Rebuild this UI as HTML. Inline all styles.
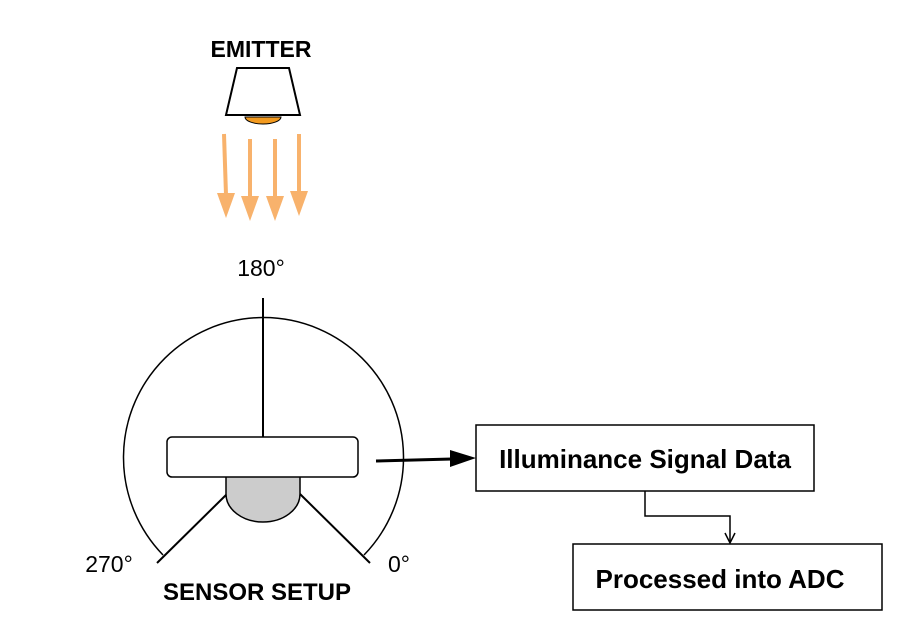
<!DOCTYPE html>
<html><head><style>body{margin:0;background:#fff}svg{display:block}text{font-family:"Liberation Sans",Arial,sans-serif}</style></head>
<body>
<svg width="903" height="640" viewBox="0 0 903 640" xmlns="http://www.w3.org/2000/svg">
<rect width="903" height="640" fill="#fff"/>
<text x="261" y="57" font-size="23" font-weight="bold" text-anchor="middle">EMITTER</text>
<path d="M245,117 A18,7 0 0 0 281,117 Z" fill="#f39a1e" stroke="#000" stroke-width="1"/>
<polygon points="237,68 289,68 300,115 226,115" fill="#fff" stroke="#000" stroke-width="2"/>
<g stroke="#f8b26c" stroke-width="4" fill="#f8b26c">
<line x1="224" y1="134" x2="226" y2="195"/><polygon points="217,193 235,193 226,218" stroke="none"/>
<line x1="250" y1="139" x2="250" y2="198"/><polygon points="241,196 259,196 250,221" stroke="none"/>
<line x1="275" y1="139" x2="275" y2="198"/><polygon points="266,196 284,196 275,221" stroke="none"/>
<line x1="299" y1="134" x2="299" y2="193"/><polygon points="290,191 308,191 299,216" stroke="none"/>
</g>
<text x="261" y="276" font-size="23" text-anchor="middle">180°</text>
<path d="M163,555 A140,140 0 1 1 364,555" fill="none" stroke="#000" stroke-width="1.5"/>
<line x1="263" y1="298" x2="263" y2="437" stroke="#000" stroke-width="2"/>
<line x1="227" y1="494" x2="157" y2="563" stroke="#000" stroke-width="2"/>
<line x1="300" y1="494" x2="370" y2="563" stroke="#000" stroke-width="2"/>
<path d="M226,476 L226,494 A37,28 0 0 0 300,494 L300,476 Z" fill="#cccccc" stroke="#000" stroke-width="1.5"/>
<rect x="167" y="437" width="191" height="40" rx="5" fill="#fff" stroke="#000" stroke-width="1.5"/>
<text x="109" y="572" font-size="23" text-anchor="middle">270°</text>
<text x="399" y="572" font-size="23" text-anchor="middle">0°</text>
<text x="257" y="600" font-size="24" font-weight="bold" text-anchor="middle">SENSOR SETUP</text>
<line x1="376" y1="461" x2="452" y2="459" stroke="#000" stroke-width="3"/>
<polygon points="450,450 476,458 450,467" fill="#000"/>
<rect x="476" y="425" width="338" height="66" fill="#fff" stroke="#000" stroke-width="1.5"/>
<text x="645" y="468" font-size="26" font-weight="bold" text-anchor="middle">Illuminance Signal Data</text>
<polyline points="645,491 645,516 730,516 730,542" fill="none" stroke="#000" stroke-width="1.5"/>
<polyline points="725,533 730,543 735,533" fill="none" stroke="#000" stroke-width="1.5"/>
<rect x="573" y="544" width="309" height="66" fill="#fff" stroke="#000" stroke-width="1.5"/>
<text x="720" y="588" font-size="26" font-weight="bold" text-anchor="middle">Processed into ADC</text>
</svg>
</body></html>
